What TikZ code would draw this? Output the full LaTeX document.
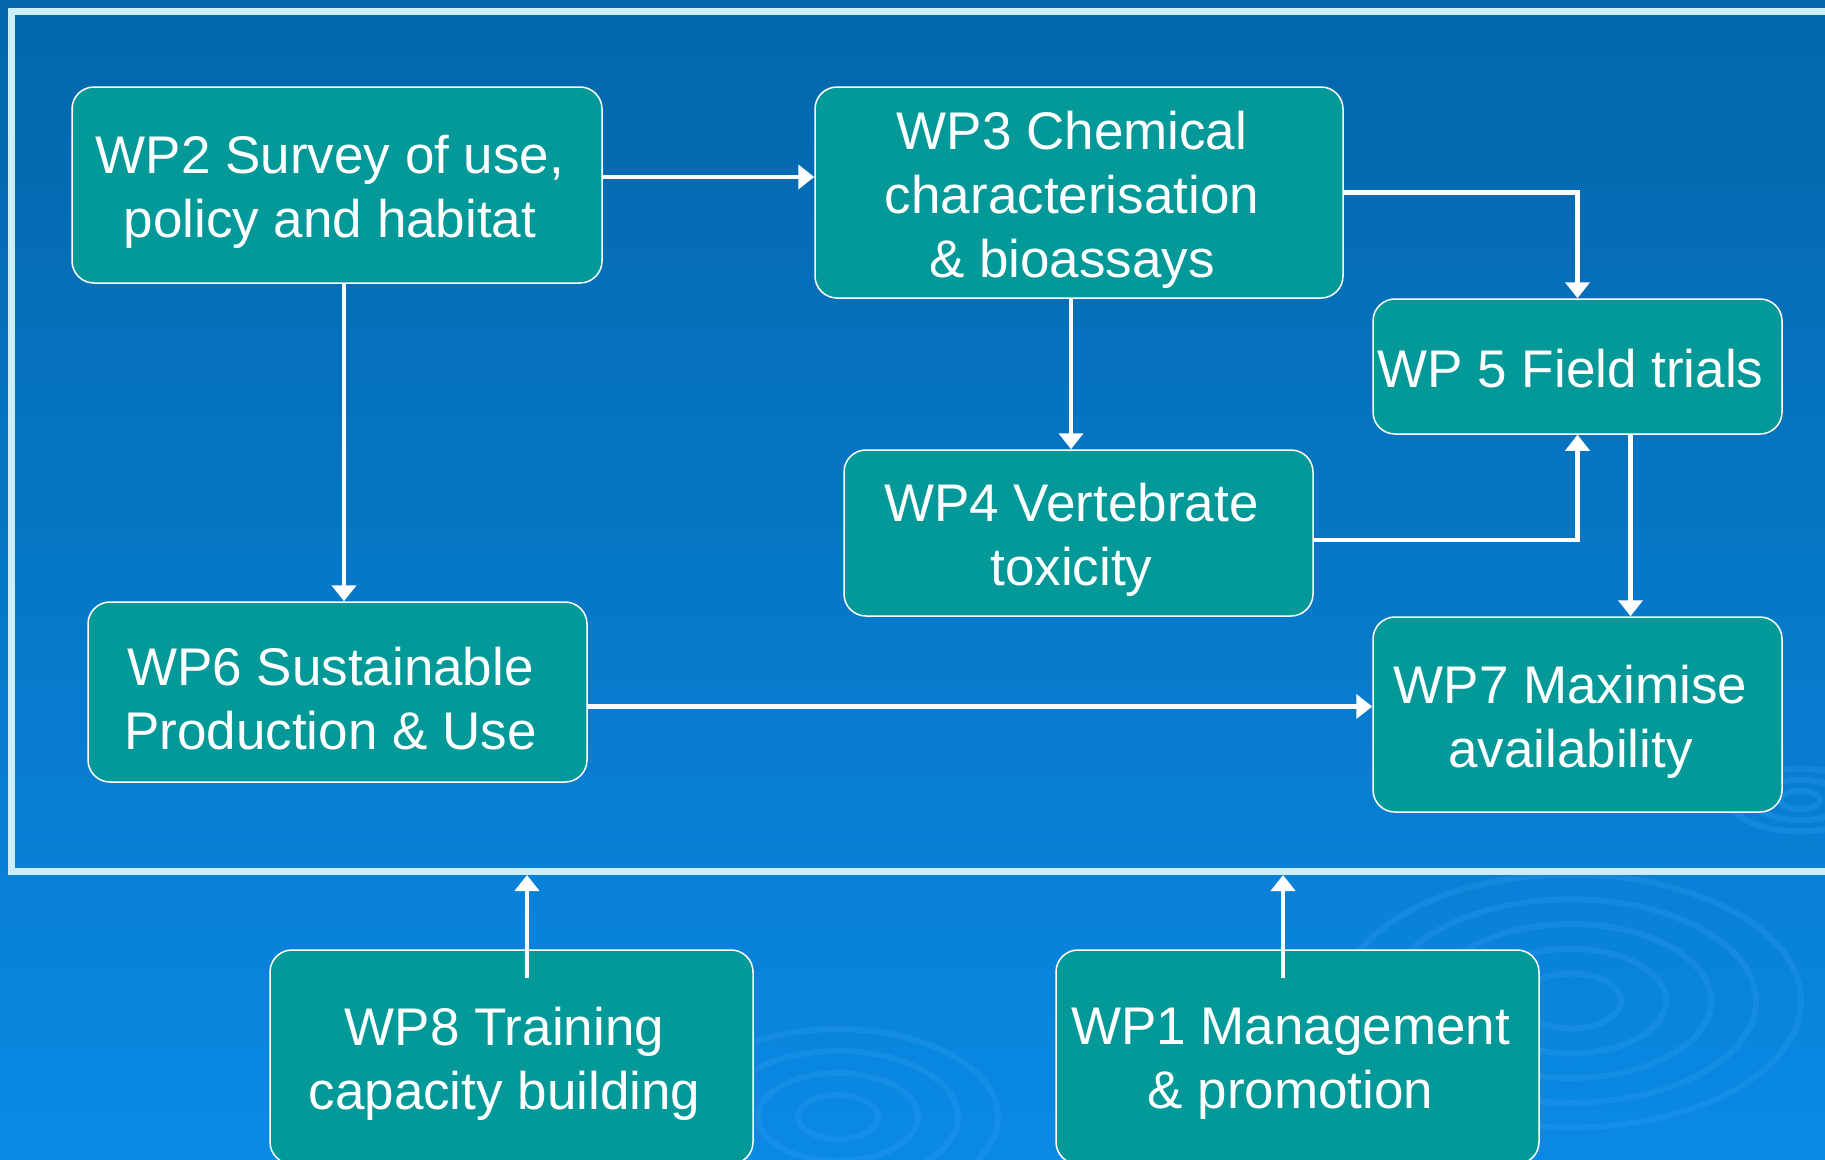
\documentclass[tikz,border=0pt]{standalone}
\usepackage{fontspec}
\setmainfont{Liberation Sans}
\usetikzlibrary{arrows.meta}
\definecolor{bgtop}{RGB}{3,102,170}
\definecolor{bgmid}{RGB}{3,114,196}
\definecolor{bgbot}{RGB}{10,137,228}
\definecolor{boxteal}{RGB}{3,153,153}
\definecolor{framec}{RGB}{204,236,255}
\definecolor{ripplec}{RGB}{50,160,245}
\begin{document}
\begin{tikzpicture}[x=1pt,y=-1pt,
  wpbox/.style={draw=white, line width=1.5pt, fill=boxteal, rounded corners=22pt, inner sep=0pt},
  wptext/.style={text=white, align=center, font=\fontsize{53}{64}\selectfont, inner sep=0pt, xshift=-7pt, yshift=-7pt},
  arr/.style={draw=white, line width=4.5pt, -{Triangle[width=24pt,length=16pt]}},
  ripple/.style={draw=ripplec, opacity=0.28, line width=6pt}]
\useasboundingbox (0,0) rectangle (1825,1159);
\clip (0,0) rectangle (1825,1159);
\shade[top color=bgtop, middle color=bgmid, bottom color=bgbot] (0,0) rectangle (1825,1159);
% water ripples
\foreach \r in {50,95,140,185,230}
  \draw[ripple] (1571,1001) ellipse [x radius=\r pt, y radius=0.55*\r pt];
\foreach \r in {40,80,120,160}
  \draw[ripple] (838,1117) ellipse [x radius=\r pt, y radius=0.55*\r pt];
\foreach \r in {20,45,70}
  \draw[ripple] (1800,800) ellipse [x radius=\r pt, y radius=0.45*\r pt];
% frame
\draw[framec, line width=7pt] (11,11) rectangle (1900,871);
% boxes
\node[wpbox, minimum width=530pt, minimum height=196pt, label={[wptext]center:WP2 Survey of use,\\policy and habitat}] (wp2) at (337,185) {};
\node[wpbox, minimum width=528pt, minimum height=211pt, label={[wptext]center:WP3 Chemical\\characterisation\\\& bioassays}] (wp3) at (1079,192.5) {};
\node[wpbox, minimum width=409pt, minimum height=135pt, label={[wptext, yshift=5pt]center:WP 5 Field trials}] (wp5) at (1577.5,366.5) {};
\node[wpbox, minimum width=469pt, minimum height=166pt, label={[wptext]center:WP4 Vertebrate\\toxicity}] (wp4) at (1078.5,533) {};
\node[wpbox, minimum width=499pt, minimum height=180pt, label={[wptext]center:WP6 Sustainable\\Production \& Use}] (wp6) at (337.5,692) {};
\node[wpbox, minimum width=409pt, minimum height=195pt, label={[wptext]center:WP7 Maximise\\availability}] (wp7) at (1577.5,714.5) {};
\node[wpbox, minimum width=483pt, minimum height=214pt, label={[wptext]center:WP8 Training\\capacity building}] (wp8) at (511.5,1057) {};
\node[wpbox, minimum width=483pt, minimum height=214pt, label={[wptext]center:WP1 Management\\\& promotion}] (wp1) at (1297.5,1057) {};
% free ends on the frame
\coordinate (f8) at (527,875);
\coordinate (f1) at (1283,875);
% connectors
\draw[arr] ([yshift=8pt]wp2.east) -- ([yshift=8pt]wp2.east -| wp3.west);
\draw[arr] ([xshift=7pt]wp2.south) -- ([xshift=7pt]wp2.south |- wp6.north);
\draw[arr] (wp3.east) -| (wp5.north);
\draw[arr] ([xshift=-8pt]wp3.south) -- ([xshift=-8pt]wp3.south |- wp4.north);
\draw[arr] ([yshift=-7pt]wp4.east) -| (wp5.south);
\draw[arr] ([xshift=53pt]wp5.south) -- ([xshift=53pt]wp5.south |- wp7.north);
\draw[arr] ([yshift=-14.5pt]wp6.east) -- ([yshift=-14.5pt]wp6.east -| wp7.west);
\draw[arr] ([yshift=-29pt]wp8.north -| f8) -- (f8);
\draw[arr] ([yshift=-29pt]wp1.north -| f1) -- (f1);
\end{tikzpicture}
\end{document}
